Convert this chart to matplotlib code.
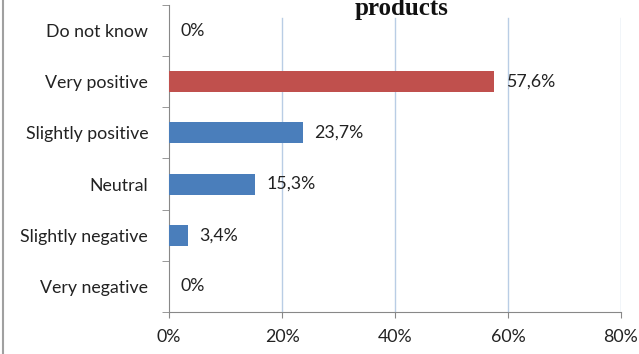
import matplotlib
matplotlib.use('Agg')
import matplotlib.pyplot as plt
import numpy as np

# Data
categories = ["Very negative", "Slightly negative", "Neutral",
              "Slightly positive", "Very positive", "Do not know"]
values = [0.0, 3.4, 15.3, 23.7, 57.6, 0.0]
labels = ["0%", "3,4%", "15,3%", "23,7%", "57,6%", "0%"]
xticks = [0, 20, 40, 60, 80]

blue = "#4a7ebb"
red = "#c0504d"
colors = [red if c == "Very positive" else blue for c in categories]

plt.rcParams['font.family'] = ['Lato', 'DejaVu Sans']
fs = 12.8

fig = plt.figure(figsize=(6.39, 3.54), dpi=100)
W, H = 639, 354
ax_top, ax_bot = 5, 312
ax = fig.add_axes([169 / W, 1 - ax_bot / H, (621 - 169) / W, (ax_bot - ax_top) / H])

y = np.arange(len(categories))
ax.barh(y, values, height=0.41, color=colors, zorder=3)
for yi, v, lab in zip(y, values, labels):
    ax.text(v + 2.0, yi, lab, va='center', ha='left', fontsize=fs, color='#222222')

ax.set_xlim(0, 80)
ax.set_ylim(-0.5, len(categories) - 0.5)
ax.set_xticks(xticks)
ax.set_xticklabels([f"{t}%" for t in xticks], fontsize=fs, color='#222222')
ax.set_yticks(y)
ax.set_yticklabels(categories, fontsize=fs, color='#222222')
ax.tick_params(axis='y', length=0, pad=15)
ax.set_yticks(np.arange(-0.5, len(categories), 1.0), minor=True)
ax.tick_params(axis='y', which='minor', length=5, color='#888888')
ax.tick_params(axis='x', length=4, color='#888888', pad=8)

# gridlines stop a little below the top of the axis (plot area in the source)
grid_top = (ax_bot - 18) / (ax_bot - ax_top)
for t in xticks[1:]:
    ax.axvline(t, ymin=0, ymax=grid_top, color='#b9cde5', linewidth=1.0, zorder=0)

for s in ['top', 'right']:
    ax.spines[s].set_visible(False)
ax.spines['left'].set_color('#888888')
ax.spines['bottom'].set_color('#888888')

# title cropped at top of the picture
fig.text(402 / W, 1 - 15 / H, "products", ha='center', va='baseline',
         fontsize=18, fontweight='bold', family='Liberation Serif', color='#111111')

# left border of the outer chart frame
fig.add_artist(plt.Line2D([3 / W, 3 / W], [0, 1], color='#a0a0a0', linewidth=1.5))

fig.savefig("out.png", dpi=100)
